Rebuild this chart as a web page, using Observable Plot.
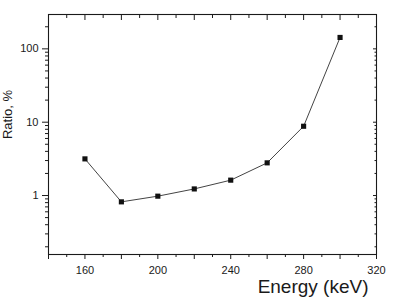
<!DOCTYPE html>
<html><head><meta charset="utf-8">
<script src="https://cdn.jsdelivr.net/npm/d3@7"></script>
<script src="https://cdn.jsdelivr.net/npm/@observablehq/plot@0.6"></script>
<style>body{margin:0;background:#fff;}</style>
</head><body><div id="chart"></div>
<script>
const energy = [160, 180, 200, 220, 240, 260, 280, 300];
const ratio = [3.16, 0.82, 0.98, 1.23, 1.62, 2.79, 8.8, 143];
const xMajorTicks = [140, 160, 180, 200, 220, 240, 260, 280, 300, 320];
const xMinorTicks = [150, 170, 190, 210, 230, 250, 270, 290, 310];
const xLabelTicks = [160, 200, 240, 280, 320];
const yMajorTicks = [1, 10, 100];
const yMinorTicks = [0.2, 0.3, 0.4, 0.5, 0.6, 0.7, 0.8, 0.9, 2, 3, 4, 5, 6, 7, 8, 9, 20, 30, 40, 50, 60, 70, 80, 90, 200];
const xTitle = "Energy (keV)";
const yTitle = "Ratio, %";

const data = energy.map((e, i) => ({energy: e, ratio: ratio[i]}));
const ink = "#1a1a1a";
const empty = () => "";

const chart = Plot.plot({
  width: 395,
  height: 298,
  marginLeft: 48,
  marginRight: 19,
  marginTop: 14,
  marginBottom: 44,
  style: {fontFamily: "'Liberation Sans', Arial, sans-serif", fontSize: "11px", background: "#fff", color: ink},
  x: {domain: [140, 320]},
  y: {type: "log", domain: [0.157, 294]},
  marks: [
    Plot.frame({stroke: ink, strokeWidth: 1.1}),
    // bottom axis
    Plot.axisX(xMajorTicks, {anchor: "bottom", tickSize: 5, tickPadding: 7, label: null, stroke: ink,
      tickFormat: d => xLabelTicks.includes(d) ? String(d) : ""}),
    Plot.axisX(xMinorTicks, {anchor: "bottom", tickSize: 3, label: null, stroke: ink, tickFormat: empty}),
    // top mirrored inward ticks
    Plot.axisX(xMajorTicks, {anchor: "top", tickSize: -5, label: null, stroke: ink, tickFormat: empty}),
    Plot.axisX(xMinorTicks, {anchor: "top", tickSize: -3, label: null, stroke: ink, tickFormat: empty}),
    // left axis
    Plot.axisY(yMajorTicks, {anchor: "left", tickSize: 6, tickPadding: 4, label: null, stroke: ink,
      tickFormat: d => String(d)}),
    Plot.axisY(yMinorTicks, {anchor: "left", tickSize: 3, label: null, stroke: ink, tickFormat: empty}),
    // right mirrored inward ticks
    Plot.axisY(yMajorTicks, {anchor: "right", tickSize: -4, label: null, stroke: ink, tickFormat: empty}),
    Plot.axisY(yMinorTicks, {anchor: "right", tickSize: -2.5, label: null, stroke: ink, tickFormat: empty}),
    // data
    Plot.line(data, {x: "energy", y: "ratio", stroke: "#444", strokeWidth: 1}),
    Plot.dot(data, {x: "energy", y: "ratio", symbol: "square", r: 2.9, fill: "#111", stroke: "none"}),
    // titles
    Plot.text([xTitle], {frameAnchor: "bottom-right", text: d => d, textAnchor: "end", lineAnchor: "bottom",
      dx: -8, dy: 38, fontSize: 19, fill: ink}),
    Plot.text([yTitle], {frameAnchor: "left", text: d => d, textAnchor: "middle", lineAnchor: "bottom",
      rotate: -90, dx: -36.5, dy: -20, fontSize: 13, fill: ink})
  ]
});
document.getElementById("chart").appendChild(chart);
</script>
</body></html>
